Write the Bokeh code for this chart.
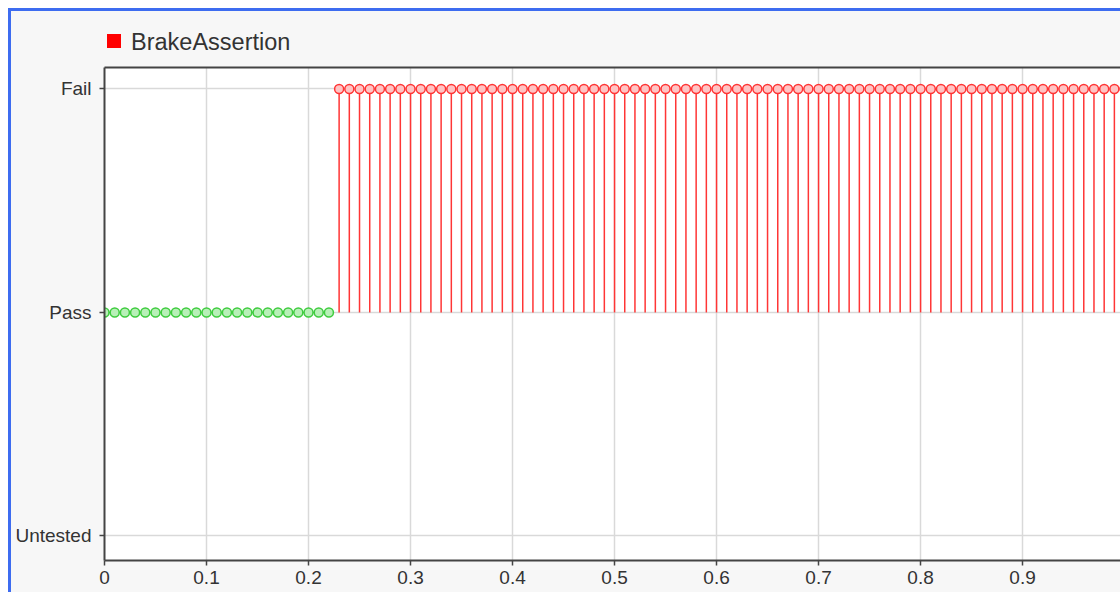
from bokeh.plotting import figure
from bokeh.models import Range1d, FixedTicker, Div, LinearAxis
from bokeh.layouts import column
from bokeh.embed import file_html
from bokeh.resources import INLINE

# ---- data ----
levels = ["Untested", "Pass", "Fail"]

time = [
    0.00, 0.01, 0.02, 0.03, 0.04, 0.05, 0.06, 0.07, 0.08, 0.09,
    0.10, 0.11, 0.12, 0.13, 0.14, 0.15, 0.16, 0.17, 0.18, 0.19,
    0.20, 0.21, 0.22, 0.23, 0.24, 0.25, 0.26, 0.27, 0.28, 0.29,
    0.30, 0.31, 0.32, 0.33, 0.34, 0.35, 0.36, 0.37, 0.38, 0.39,
    0.40, 0.41, 0.42, 0.43, 0.44, 0.45, 0.46, 0.47, 0.48, 0.49,
    0.50, 0.51, 0.52, 0.53, 0.54, 0.55, 0.56, 0.57, 0.58, 0.59,
    0.60, 0.61, 0.62, 0.63, 0.64, 0.65, 0.66, 0.67, 0.68, 0.69,
    0.70, 0.71, 0.72, 0.73, 0.74, 0.75, 0.76, 0.77, 0.78, 0.79,
    0.80, 0.81, 0.82, 0.83, 0.84, 0.85, 0.86, 0.87, 0.88, 0.89,
    0.90, 0.91, 0.92, 0.93, 0.94, 0.95, 0.96, 0.97, 0.98, 0.99,
    1.00,
]
status = (
    ["Pass", "Pass", "Pass", "Pass", "Pass", "Pass", "Pass", "Pass", "Pass", "Pass",
     "Pass", "Pass", "Pass", "Pass", "Pass", "Pass", "Pass", "Pass", "Pass", "Pass",
     "Pass", "Pass", "Pass"]
    + ["Fail"] * 78
)
x_ticks = [0, 0.1, 0.2, 0.3, 0.4, 0.5, 0.6, 0.7, 0.8, 0.9, 1.0]
x_tick_labels = ["0", "0.1", "0.2", "0.3", "0.4", "0.5", "0.6", "0.7", "0.8", "0.9", "1.0"]
series_name = "BrakeAssertion"
series_color = "#ff0000"

# ---- derived ----
code = {lv: i for i, lv in enumerate(levels)}
t_pass = [t for t, s in zip(time, status) if s == "Pass"]
y_pass = [code[s] for s in status if s == "Pass"]
t_fail = [t for t, s in zip(time, status) if s == "Fail"]
y_fail = [code[s] for s in status if s == "Fail"]
y_base = [code["Pass"] for _ in t_fail]

FONT = "Liberation Sans"
BG = "#f7f7f7"
AXC = "#444444"

p = figure(
    width=1109, height=526,
    x_range=Range1d(0, 0.996), y_range=Range1d(-0.11, 2.096),
    output_backend="svg", toolbar_location=None,
    min_border_left=93, min_border_right=0, min_border_top=1, min_border_bottom=32,
    border_fill_color=BG, background_fill_color="#ffffff",
    outline_line_color=None,
    margin=0,
)

bottom_axis = p.below[0]
left_axis = p.left[0]

# grid
p.xgrid.ticker = FixedTicker(ticks=x_ticks)
p.ygrid.ticker = FixedTicker(ticks=[0, 1, 2])
for g in (p.xgrid, p.ygrid):
    g.grid_line_color = "#d9d9d9"
    g.grid_line_width = 1.5

# axes
bottom_axis.ticker = FixedTicker(ticks=x_ticks)
bottom_axis.major_label_overrides = {t: l for t, l in zip(x_ticks, x_tick_labels)}
left_axis.ticker = FixedTicker(ticks=[0, 1, 2])
left_axis.major_label_overrides = {i: lv for i, lv in enumerate(levels)}
for ax in (bottom_axis, left_axis):
    ax.axis_line_color = AXC
    ax.axis_line_width = 2
    ax.major_tick_line_color = AXC
    ax.major_tick_line_width = 1.5
    ax.major_tick_out = 5
    ax.major_tick_in = 0
    ax.minor_tick_out = 0
    ax.minor_tick_in = 0
    ax.major_label_text_font = FONT
    ax.major_label_text_color = "#333333"
    ax.major_label_text_font_size = "19px"
bottom_axis.major_label_standoff = 5
left_axis.major_label_standoff = 8

# top frame line (an unlabeled axis)
top_axis = LinearAxis(
    ticker=FixedTicker(ticks=[]), axis_line_color=AXC, axis_line_width=2,
    major_tick_out=0, major_tick_in=0, minor_tick_out=0, minor_tick_in=0,
    major_label_text_font_size="0px", major_label_standoff=0,
)
p.add_layout(top_axis, "above")

# pass samples
p.line(t_pass, y_pass, line_color="#44cc44", line_width=1.5)
p.scatter(t_pass, y_pass, size=9, marker="circle", line_color="#3fcc3f",
          fill_color="#b8f0b8", line_width=1.5)

# fail stems
p.segment(x0=t_fail, y0=y_base, x1=t_fail, y1=y_fail, line_color="#ff3535", line_width=1.5)
p.scatter(t_fail, y_fail, size=9, marker="circle", line_color="#ff3535",
          fill_color="#ffc4c4", line_width=1.5)

# legend header (HTML)
header = Div(
    text=(
        f'<div style="padding:17px 0 0 96px; font-family:\'{FONT}\'; font-size:23.5px; '
        f'line-height:28px; color:#333333; white-space:nowrap;">'
        f'<span style="display:inline-block; width:14px; height:14px; background:{series_color}; '
        f'margin-right:10px; vertical-align:2px;"></span>{series_name}</div>'
    ),
    width=1109, height=55, margin=0,
    styles={"background-color": BG},
)

layout = column(
    header, p, spacing=0, margin=0,
    styles={
        "margin-left": "8px", "margin-top": "8px",
        "border-top": "3px solid #3d6cf0", "border-left": "3px solid #3d6cf0",
        "background-color": BG,
    },
)

open("out.html", "w").write(file_html(layout, INLINE))
